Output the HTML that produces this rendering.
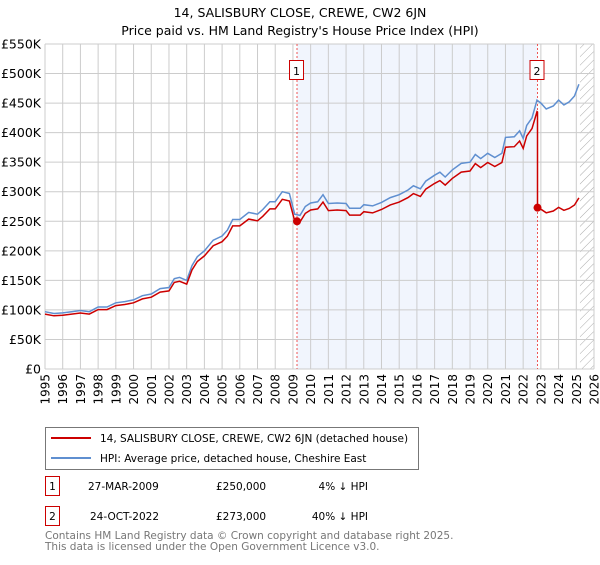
<!DOCTYPE html>
<html><head><meta charset="utf-8"><style>
body{margin:0;background:#fff;font-family:"Liberation Sans","DejaVu Sans",sans-serif;}
svg text{font-family:"DejaVu Sans","Liberation Sans",sans-serif;}
</style></head><body>
<svg id="c" width="600" height="560" xmlns="http://www.w3.org/2000/svg">
<text x="300" y="17" text-anchor="middle" font-size="12.5" fill="#000">14, SALISBURY CLOSE, CREWE, CW2 6JN</text>
<text x="300" y="35" text-anchor="middle" font-size="12.5" fill="#000">Price paid vs. HM Land Registry's House Price Index (HPI)</text>
<g id="plot"></g>
<g>
<rect x="45.5" y="427.5" width="373" height="42" fill="#fff" stroke="#777"/>
<line x1="51" y1="438" x2="91" y2="438" stroke="#cc0000" stroke-width="2"/>
<text x="100" y="442" font-size="10.5">14, SALISBURY CLOSE, CREWE, CW2 6JN (detached house)</text>
<line x1="51" y1="458" x2="91" y2="458" stroke="#5f8fd0" stroke-width="2"/>
<text x="100" y="462" font-size="10.5">HPI: Average price, detached house, Cheshire East</text>
</g>
<g>
<rect x="45.5" y="476.5" width="14" height="19" fill="#fff" stroke="#cc0000"/>
<text x="52.5" y="490" text-anchor="middle" font-size="10.5">1</text>
<text x="88" y="490" font-size="10.5">27-MAR-2009</text>
<text x="216" y="490" font-size="10.5">£250,000</text>
<text x="368" y="490" text-anchor="end" font-size="10.5">4% ↓ HPI</text>
</g>
<g>
<rect x="45.5" y="506.5" width="14" height="19" fill="#fff" stroke="#cc0000"/>
<text x="52.5" y="520" text-anchor="middle" font-size="10.5">2</text>
<text x="90" y="520" font-size="10.5">24-OCT-2022</text>
<text x="216" y="520" font-size="10.5">£273,000</text>
<text x="368" y="520" text-anchor="end" font-size="10.5">40% ↓ HPI</text>
</g>
<text x="45" y="539" font-size="10.5" fill="#777">Contains HM Land Registry data © Crown copyright and database right 2025.</text>
<text x="45" y="550" font-size="10.5" fill="#777">This data is licensed under the Open Government Licence v3.0.</text>
</svg>
<script>
const hpiYears=[1995,1995.5,1996,1996.5,1997,1997.5,1998,1998.5,1999,1999.5,2000,2000.5,2001,2001.5,2002,2002.3,2002.6,2003,2003.3,2003.6,2004,2004.5,2005,2005.3,2005.6,2006,2006.5,2007,2007.3,2007.7,2008,2008.4,2008.8,2009.1,2009.4,2009.7,2010,2010.4,2010.7,2011,2011.5,2012,2012.2,2012.8,2013,2013.5,2014,2014.5,2015,2015.5,2015.8,2016.2,2016.5,2017,2017.3,2017.6,2018,2018.5,2019,2019.3,2019.6,2020,2020.4,2020.8,2021,2021.5,2021.8,2022,2022.2,2022.5,2022.78,2023,2023.3,2023.7,2024,2024.3,2024.6,2024.9,2025.15];
const hpiValues=[97,94,95,97,99,97,105,105,112,114,117,124,127,136,138,153,155,150,175,190,200,218,225,235,253,253,265,262,270,283,283,300,297,262,260,275,281,283,295,280,281,280,272,272,278,276,282,290,295,303,310,305,318,328,333,325,337,348,350,363,356,365,358,365,392,393,403,390,412,425,455,450,440,445,455,447,452,462,482];
const saleYears=[2009.23,2022.81];
const salePrices=[250,273];
const saleLabels=["1","2"];
const yTicks=[0,50,100,150,200,250,300,350,400,450,500,550];
const yTickLabels=["£0","£50K","£100K","£150K","£200K","£250K","£300K","£350K","£400K","£450K","£500K","£550K"];
const xTicks=[1995,1996,1997,1998,1999,2000,2001,2002,2003,2004,2005,2006,2007,2008,2009,2010,2011,2012,2013,2014,2015,2016,2017,2018,2019,2020,2021,2022,2023,2024,2025,2026];

const NS="http://www.w3.org/2000/svg";
const L=45,R=594,T=44,B=369;
const xs=y=>L+(y-1995)/(2026-1995)*(R-L);
const ys=v=>B-v/550*(B-T);
const g=document.getElementById('plot');
function mk(t,a){const e=document.createElementNS(NS,t);for(const k in a)e.setAttribute(k,a[k]);g.appendChild(e);return e;}
function hpiAt(y){for(let i=0;i<hpiYears.length-1;i++){if(y<=hpiYears[i+1]){const f=(y-hpiYears[i])/(hpiYears[i+1]-hpiYears[i]);return hpiValues[i]+f*(hpiValues[i+1]-hpiValues[i]);}}return hpiValues[hpiValues.length-1];}

let e=mk('rect',{x:xs(saleYears[0]),y:T,width:xs(saleYears[1])-xs(saleYears[0]),height:B-T,fill:'#eef3fc',opacity:0.8});


const lastData=2025.15;
const defs=document.createElementNS(NS,'defs');defs.innerHTML='<pattern id="h" width="6" height="6" patternUnits="userSpaceOnUse" patternTransform="rotate(45)"><line x1="0" y1="0" x2="0" y2="6" stroke="#aaa" stroke-width="1"/></pattern>';g.appendChild(defs);
e=mk('rect',{x:xs(lastData)+1,y:T,width:R-xs(lastData)-1,height:B-T,fill:'url(#h)'});


yTicks.forEach((v,i)=>{
 let l=mk('line',{x1:L,x2:R,y1:ys(v),y2:ys(v),stroke:'#ccc','stroke-width':1});
 
 
 let t=mk('text',{x:L-4,y:ys(v)+4.5,'text-anchor':'end','font-size':12.5,fill:'#000'});t.textContent=yTickLabels[i];
 
 
});
xTicks.forEach(yr=>{
 let l=mk('line',{x1:xs(yr),x2:xs(yr),y1:T,y2:B,stroke:'#ccc','stroke-width':1});
 
 
 let t=mk('text',{x:0,y:0,'text-anchor':'end','font-size':12,transform:`translate(${xs(yr)+4.5},${B+5}) rotate(-90)`});t.textContent=yr;
 
 
});
saleYears.forEach((yr,i)=>{
 let l=mk('line',{x1:xs(yr),x2:xs(yr),y1:T,y2:B,stroke:'#e55','stroke-width':1,'stroke-dasharray':'2,2'});
 
 
 let r=mk('rect',{x:xs(yr)-7.5,y:60.5,width:14,height:19,fill:'#fff',stroke:'#cc0000'});
 
 
 let t=mk('text',{x:xs(yr)-0.5,y:75,'text-anchor':'middle','font-size':11});t.textContent=saleLabels[i];
 
 
});
let p=hpiYears.map((y,i)=>(i?'L':'M')+xs(y).toFixed(1)+','+ys(hpiValues[i]).toFixed(1)).join('');
e=mk('path',{d:p,fill:'none',stroke:'#5f8fd0','stroke-width':1.5});


const r0=salePrices[0]/hpiAt(saleYears[0]),r1=salePrices[1]/hpiAt(saleYears[1]);
let pts=[];
hpiYears.forEach((y,i)=>{
 if(y<saleYears[1]) pts.push([y,hpiValues[i]*r0]);
});
pts.push([saleYears[1],hpiAt(saleYears[1])*r0]);
pts.push([saleYears[1],salePrices[1]]);
hpiYears.forEach((y,i)=>{if(y>saleYears[1])pts.push([y,hpiValues[i]*r1]);});
p=pts.map((q,i)=>(i?'L':'M')+xs(q[0]).toFixed(1)+','+ys(q[1]).toFixed(1)).join('');
e=mk('path',{d:p,fill:'none',stroke:'#cc0000','stroke-width':1.5});


saleYears.forEach((yr,i)=>{
 let c=mk('circle',{cx:xs(yr),cy:ys(salePrices[i]),r:4,fill:'#cc0000'});
 
 
});
</script>
</body></html>
